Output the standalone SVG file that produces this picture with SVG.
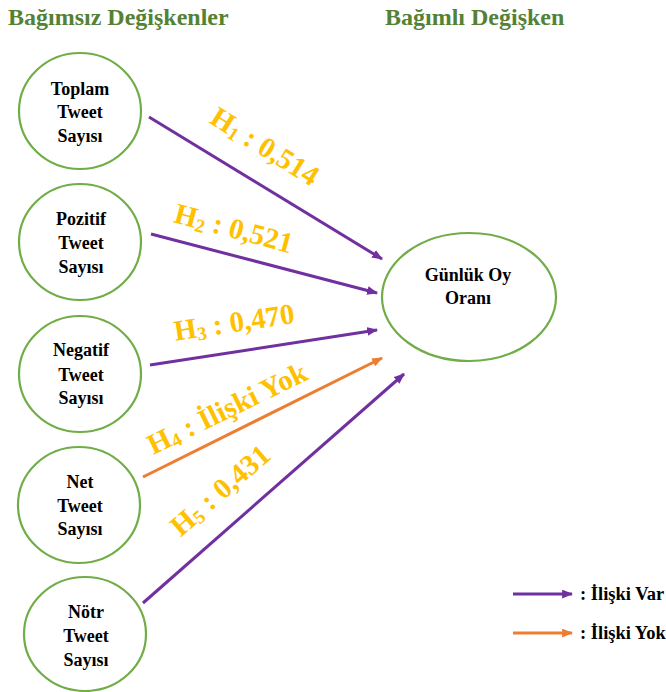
<svg xmlns="http://www.w3.org/2000/svg" width="666" height="692" viewBox="0 0 666 692">
<defs>
<style>
text{font-family:'Liberation Serif','Times New Roman',Times,serif;font-weight:bold}
.title{font-size:24px;fill:#548235}
.node ellipse{fill:#fff;stroke:#70AD47;stroke-width:2.2}
.node text{font-size:18px;fill:#000;text-anchor:middle}
.lbl{font-size:29px;fill:#FFC000;text-anchor:middle}
.leg{font-size:18.5px;fill:#000}
.p{stroke:#7030A0;stroke-width:3;fill:none;marker-end:url(#ap)}
.o{stroke:#ED7D31;stroke-width:3;fill:none;marker-end:url(#ao)}
</style>
<marker id="ap" markerUnits="userSpaceOnUse" viewBox="0 0 10 8" markerWidth="11" markerHeight="9" refX="9" refY="4" orient="auto"><path d="M0,0 L10,4 L0,8 Z" fill="#7030A0"/></marker>
<marker id="ao" markerUnits="userSpaceOnUse" viewBox="0 0 10 8" markerWidth="11" markerHeight="9" refX="9" refY="4" orient="auto"><path d="M0,0 L10,4 L0,8 Z" fill="#ED7D31"/></marker>
</defs>
<rect width="666" height="692" fill="#fff"/>
<text class="title" x="8" y="25">Bağımsız Değişkenler</text>
<text class="title" x="385" y="25">Bağımlı Değişken</text>

<g id="n1" class="node"><ellipse cx="80" cy="111" rx="61" ry="58"/><text x="80" y="95">Toplam</text><text x="80" y="118">Tweet</text><text x="80" y="142">Sayısı</text></g>
<g id="n2" class="node"><ellipse cx="80" cy="242" rx="61" ry="58"/><text x="81" y="225">Pozitif</text><text x="81" y="249">Tweet</text><text x="81" y="273">Sayısı</text></g>
<g id="n3" class="node"><ellipse cx="80" cy="374" rx="61" ry="58"/><text x="81" y="356">Negatif</text><text x="81" y="381">Tweet</text><text x="81" y="404">Sayısı</text></g>
<g id="n4" class="node"><ellipse cx="79" cy="505" rx="61" ry="58"/><text x="80" y="488">Net</text><text x="80" y="512">Tweet</text><text x="80" y="535">Sayısı</text></g>
<g id="n5" class="node"><ellipse cx="85" cy="634" rx="61" ry="57"/><text x="86" y="618">Nötr</text><text x="86" y="642">Tweet</text><text x="86" y="666">Sayısı</text></g>
<g id="target" class="node"><ellipse cx="469" cy="297" rx="87" ry="64"/><text x="468" y="281">Günlük Oy</text><text x="468" y="304">Oranı</text></g>

<g id="connectors">
<line class="p" x1="149" y1="117" x2="382" y2="259"/>
<line class="p" x1="151" y1="234" x2="377" y2="293"/>
<line class="p" x1="150" y1="365" x2="377" y2="330"/>
<line class="o" x1="143" y1="477" x2="382" y2="358"/>
<line class="p" x1="143" y1="603" x2="404" y2="374"/>
</g>

<g id="labels">
<text class="lbl" transform="translate(265,146) rotate(32)" y="10">H<tspan font-size="19" dy="3">1</tspan><tspan dy="-3"> : 0,514</tspan></text>
<text class="lbl" transform="translate(234,228) rotate(15)" y="10">H<tspan font-size="19" dy="3">2</tspan><tspan dy="-3"> : 0,521</tspan></text>
<text class="lbl" transform="translate(234,322) rotate(-8.5)" y="10">H<tspan font-size="19" dy="3">3</tspan><tspan dy="-3"> : 0,470</tspan></text>
<text class="lbl" transform="translate(227,408) rotate(-26)" y="10" font-size="30">H<tspan font-size="19" dy="3">4</tspan><tspan dy="-3"> : İlişki Yok</tspan></text>
<text class="lbl" transform="translate(220,490) rotate(-41)" y="10">H<tspan font-size="19" dy="3">5</tspan><tspan dy="-3"> : 0,431</tspan></text>
</g>

<g id="legend">
<line class="p" x1="513" y1="594" x2="572" y2="594"/>
<text class="leg" x="580" y="600">: İlişki Var</text>
<line class="o" x1="513" y1="633" x2="572" y2="633"/>
<text class="leg" x="580" y="639">: İlişki Yok</text>
</g>
</svg>
